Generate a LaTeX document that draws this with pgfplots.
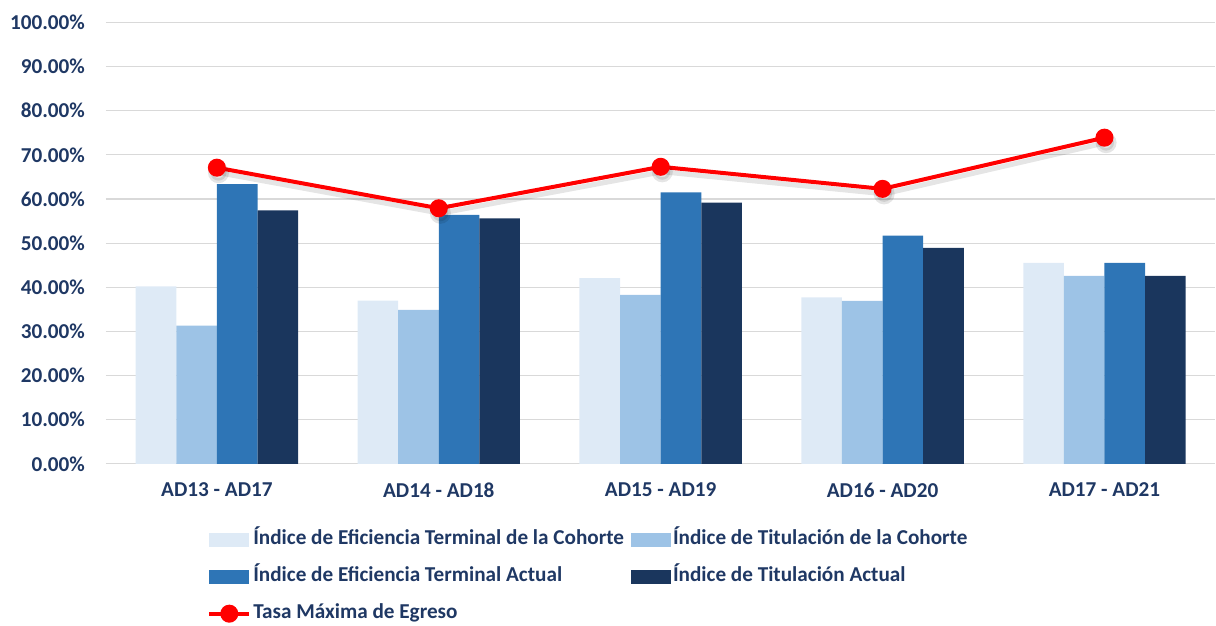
\documentclass[border=0pt]{standalone}
\usepackage{pgfplots}
\pgfplotsset{compat=1.18}
\usepackage{fontspec}
\setmainfont{Carlito}

\definecolor{txt}{RGB}{31,56,100}
\definecolor{cA}{RGB}{222,234,246}
\definecolor{cB}{RGB}{157,195,230}
\definecolor{cC}{RGB}{46,117,182}
\definecolor{cD}{RGB}{26,54,93}
\definecolor{gridc}{RGB}{217,217,217}

\pgfplotsset{
  barleg/.style={legend image code/.code={\fill[##1] (0pt,-3.5pt) rectangle (20pt,3.5pt);}},
  lineleg/.style={legend image code/.code={\draw[mark repeat=2,mark phase=2,##1] plot coordinates {(0pt,0pt) (10pt,0pt) (20pt,0pt)};}},
}

\begin{document}
\begin{tikzpicture}
\begin{axis}[
  at={(0pt,0pt)}, anchor=south west,
  scale only axis,
  width=555pt, height=220.75pt,
  xmin=-0.5, xmax=4.5,
  ymin=0, ymax=100,
  ybar=0pt, bar width=0.183,
  axis line style={draw=none},
  major tick length=0pt,
  ymajorgrids, grid style={gridc, line width=0.6pt},
  xtick=data,
  xticklabels={AD13 - AD17, AD14 - AD18, AD15 - AD19, AD16 - AD20, AD17 - AD21},
  ytick={0,10,...,100},
  yticklabels={0.00\%,10.00\%,20.00\%,30.00\%,40.00\%,50.00\%,60.00\%,70.00\%,80.00\%,90.00\%,100.00\%},
  tick label style={font=\fontsize{10.6}{12}\selectfont\bfseries, text=txt},
  yticklabel style={xshift=-7pt},
  xticklabel style={yshift=-6pt},
  legend columns=2,
  legend cell align=left,
  legend style={at={(axis description cs:0.091,-0.144)}, anchor=north west,
    draw=none, fill=none, inner sep=0pt, row sep=6.5pt,
    nodes={inner sep=1pt, text height=7.5pt, text depth=2.5pt},
    font=\fontsize{10.6}{12}\selectfont\bfseries, text=txt,
    /tikz/every odd column/.append style={column sep=0pt},
    /tikz/every even column/.append style={column sep=2.5pt}},
]
\addplot[fill=cA, draw=none, barleg] coordinates {(0,40.2) (1,37.0) (2,42.1) (3,37.7) (4,45.5)};
\addlegendentry{Índice de Eficiencia Terminal de la Cohorte}
\addplot[fill=cB, draw=none, barleg] coordinates {(0,31.3) (1,34.9) (2,38.3) (3,36.9) (4,42.6)};
\addlegendentry{Índice de Titulación de la Cohorte}
\addplot[fill=cC, draw=none, barleg] coordinates {(0,63.4) (1,56.4) (2,61.5) (3,51.7) (4,45.5)};
\addlegendentry{Índice de Eficiencia Terminal Actual}
\addplot[fill=cD, draw=none, barleg] coordinates {(0,57.4) (1,55.6) (2,59.2) (3,48.9) (4,42.6)};
\addlegendentry{Índice de Titulación Actual}
\addplot[sharp plot, forget plot, draw=black, opacity=0.1, line width=2.5pt,
  mark=*, mark size=4pt, mark options={fill=black, draw=none}, xshift=0.8pt, yshift=-2.5pt]
  coordinates {(0,67.1) (1,57.9) (2,67.3) (3,62.3) (4,73.9)};
\addplot[sharp plot, draw=red, line width=2pt, mark=*, mark size=3.5pt,
  mark options={fill=red, draw=red}, lineleg]
  coordinates {(0,67.1) (1,57.9) (2,67.3) (3,62.3) (4,73.9)};
\addlegendentry{Tasa Máxima de Egreso}
\end{axis}
\path (-53pt,-79pt) rectangle (555pt,232pt);
\end{tikzpicture}
\end{document}
